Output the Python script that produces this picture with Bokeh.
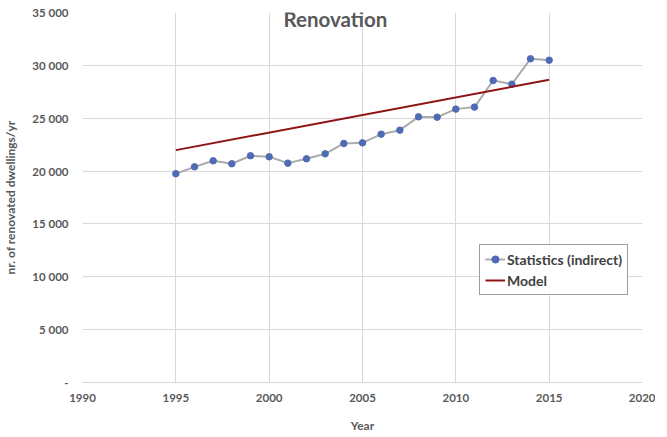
from bokeh.plotting import figure
from bokeh.models import Range1d, Legend, LegendItem, Label, CustomJSTickFormatter, FixedTicker
from bokeh.embed import file_html
from bokeh.resources import INLINE

years = [1995, 1996, 1997, 1998, 1999, 2000, 2001, 2002, 2003, 2004, 2005,
         2006, 2007, 2008, 2009, 2010, 2011, 2012, 2013, 2014, 2015]
statistics = [19750, 20400, 20970, 20690, 21450, 21350, 20750, 21160, 21630, 22610, 22670,
              23490, 23870, 25130, 25100, 25860, 26050, 28570, 28220, 30620, 30490]
model_years = [1995, 2015]
model_values = [21980, 28630]
x_ticks = [1990, 1995, 2000, 2005, 2010, 2015, 2020]
y_ticks = [0, 5000, 10000, 15000, 20000, 25000, 30000, 35000]

FONT = "Lato"
GREY = "#595959"

p = figure(frame_width=560, frame_height=370, output_backend="svg", toolbar_location=None,
           x_range=Range1d(1990, 2020), y_range=Range1d(0, 35000),
           min_border_left=78, min_border_right=13, min_border_top=12, min_border_bottom=52)
p.outline_line_color = None
p.background_fill_color = "white"
p.border_fill_color = "white"

p.xgrid.grid_line_color = "#d9d9d9"
p.ygrid.grid_line_color = "#d9d9d9"
p.xaxis.ticker = FixedTicker(ticks=x_ticks)
p.yaxis.ticker = FixedTicker(ticks=y_ticks)
p.xgrid.ticker = FixedTicker(ticks=x_ticks)
p.ygrid.ticker = FixedTicker(ticks=y_ticks)

p.yaxis.formatter = CustomJSTickFormatter(code="""
if (tick == 0) { return '-'; }
const s = Math.round(tick).toString();
return s.slice(0, s.length - 3) + ' ' + s.slice(s.length - 3);
""")

for ax in (p.xaxis, p.yaxis):
    ax.major_tick_line_color = None
    ax.minor_tick_line_color = None
    ax.major_tick_in = 0
    ax.major_tick_out = 0
    ax.minor_tick_in = 0
    ax.minor_tick_out = 0
    ax.major_label_text_font = FONT
    ax.major_label_text_font_style = "bold"
    ax.major_label_text_font_size = "11.5px"
    ax.major_label_text_color = GREY
    ax.axis_label_text_font = FONT
    ax.axis_label_text_font_style = "bold"
    ax.axis_label_text_font_size = "12px"
    ax.axis_label_text_color = GREY
p.xaxis.axis_line_color = "#d9d9d9"
p.yaxis.axis_line_color = None
p.xaxis.major_label_standoff = 11
p.yaxis.major_label_standoff = 14
p.xaxis.axis_label = "Year"
p.yaxis.axis_label = "nr. of renovated dwellings/yr"
p.xaxis.axis_label_standoff = 13
p.yaxis.axis_label_standoff = 11

stat_line = p.line(years, statistics, line_color="#ababab", line_width=2)
stat_pts = p.scatter(years, statistics, size=6.5, fill_color="#4e6bb4", line_color="#4e6bb4")
model_line = p.line(model_years, model_values, line_color="#8e1414", line_width=2)

legend = Legend(items=[LegendItem(label="Statistics (indirect)", renderers=[stat_line, stat_pts]),
                       LegendItem(label="Model", renderers=[model_line])],
                location=(397, 87))
legend.border_line_color = "#404040"
legend.border_line_width = 1
legend.label_text_font = FONT
legend.label_text_font_style = "bold"
legend.label_text_font_size = "14px"
legend.label_text_color = "#404040"
legend.glyph_width = 20
legend.glyph_height = 18
legend.label_standoff = 2
legend.spacing = 3
legend.padding = 5
legend.margin = 0
legend.background_fill_color = "white"
p.add_layout(legend, "center")

title = Label(x=2003.55, y=34430, text="Renovation", text_font=FONT, text_font_style="bold",
              text_font_size="20.5px", text_color=GREY, text_align="center", text_baseline="middle")
p.add_layout(title)

open("out.html", "w").write(file_html(p, INLINE))
